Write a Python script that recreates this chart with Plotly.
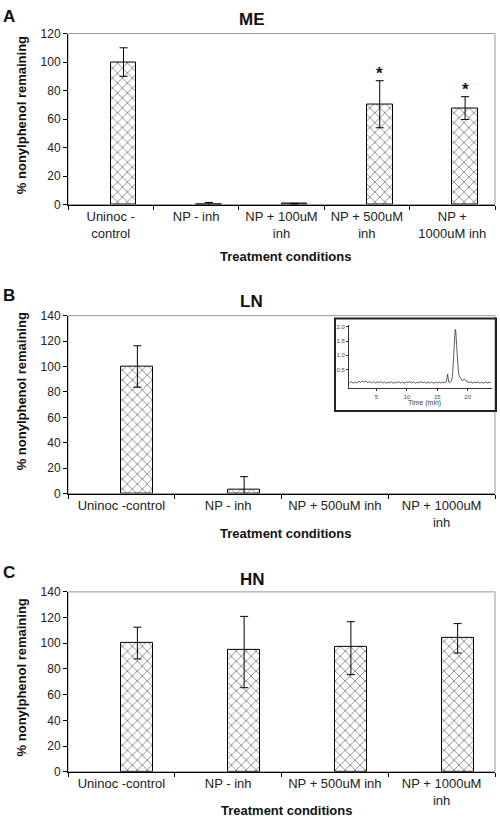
import plotly.graph_objects as go

W, H = 500, 822

# ---------------- data ----------------
cats_A = ["Uninoc -<br>control", "NP - inh", "NP + 100uM<br>inh", "NP + 500uM<br>inh", "NP +<br>1000uM inh"]
vals_A = [100.0, 0.3, 0.5, 70.4, 67.7]
err_A = [10.0, 1.2, 0.3, 16.5, 8.0]
star_A = ["", "", "", "*", "*"]
star_y_A = [None, None, None, 92.0, 81.0]

cats_BC = ["Uninoc -control", "NP - inh", "NP + 500uM inh", "NP + 1000uM<br>inh"]
vals_B = [100.0, 3.0, None, None]   # no remaining nonylphenol detected
err_B = [16.3, 10.3, None, None]

vals_C = [100.3, 94.7, 97.2, 104.4]
err_C_plus = [12.2, 26.2, 19.6, 10.9]
err_C_minus = [12.5, 29.3, 21.6, 12.0]

# inset chromatogram
chrom_t = [0.6, 0.9, 1.2, 1.5, 1.8, 2.1, 2.4, 2.7, 3.0, 3.3, 3.6, 3.9, 4.2, 4.5, 4.8,
           5.1, 5.4, 5.7, 6.0, 6.3, 6.6, 6.9, 7.2, 7.5, 7.8, 8.1, 8.4, 8.7, 9.0, 9.3,
           9.6, 9.9, 10.2, 10.5, 10.8, 11.1, 11.4, 11.7, 12.0, 12.3, 12.6, 12.9, 13.2,
           13.5, 13.8, 14.1, 14.4, 14.7, 15.0, 15.3, 15.6, 15.9, 16.2, 16.5, 16.7, 16.9,
           17.1, 17.3, 17.5, 17.7, 17.85, 17.95, 18.05, 18.2, 18.35, 18.5, 18.7, 18.9,
           19.1, 19.3, 19.5, 19.7, 19.9, 20.2, 20.5, 20.8, 21.1, 21.4, 21.7, 22.0, 22.3,
           22.6, 22.9, 23.2, 23.5, 23.8]
chrom_v = [0.02, 0.07, 0.01, 0.06, 0.02, 0.08, 0.04, 0.10, 0.05, 0.09, 0.03, 0.08, 0.02, 0.07, 0.01,
           0.06, 0.03, 0.07, 0.02, 0.06, 0.01, 0.05, 0.03, 0.06, 0.01, 0.05, 0.02, 0.07, 0.02, 0.05,
           0.01, 0.06, 0.03, 0.07, 0.02, 0.06, 0.01, 0.05, 0.02, 0.07, 0.03, 0.06, 0.01,
           0.05, 0.02, 0.06, 0.01, 0.05, 0.02, 0.06, 0.02, 0.05, 0.03, 0.06, 0.33, 0.05,
           0.04, 0.08, 0.25, 0.90, 1.60, 1.91, 1.85, 1.30, 0.70, 0.35, 0.22, 0.18,
           0.10, 0.13, 0.16, 0.10, 0.07, 0.04, 0.06, 0.02, 0.05, 0.03, 0.06, 0.02, 0.05,
           0.01, 0.06, 0.02, 0.05, 0.03]
inset_xticks = [5, 10, 15, 20]
inset_yticks = [0.5, 1.0, 1.5, 2.0]

# ---------------- layout helpers ----------------
FONT = "Arial, Liberation Sans, sans-serif"


def px(x):
    return x / W


def py(y):
    return 1 - y / H


PLOT_X = [px(68), px(495)]
DOM_A = [py(201), py(27)]
DOM_B = [py(495), py(314)]
DOM_C = [py(778), py(595)]

pattern = dict(shape="x", fgcolor="#111", bgcolor="white", size=7, solidity=0.24)
bar_marker = dict(color="white", pattern=pattern, line=dict(color="black", width=1))

fig = go.Figure()

fig.add_trace(go.Bar(x=cats_A, y=vals_A, xaxis="x", yaxis="y", width=0.30, offset=0.0,
                     showlegend=False, marker=bar_marker,
                     error_y=dict(type="data", array=err_A, color="black", thickness=1, width=4)))
fig.add_trace(go.Bar(x=cats_BC, y=vals_B, xaxis="x2", yaxis="y2", width=0.30, offset=0.0,
                     showlegend=False, marker=bar_marker,
                     error_y=dict(type="data", array=err_B, color="black", thickness=1, width=4)))
fig.add_trace(go.Bar(x=cats_BC, y=vals_C, xaxis="x3", yaxis="y3", width=0.30, offset=0.0,
                     showlegend=False, marker=bar_marker,
                     error_y=dict(type="data", symmetric=False, array=err_C_plus,
                                  arrayminus=err_C_minus, color="black", thickness=1, width=4)))
fig.add_trace(go.Scatter(x=chrom_t, y=chrom_v, xaxis="x4", yaxis="y4", mode="lines",
                         line=dict(color="#333", width=0.8), showlegend=False))

xcommon = dict(type="category", showline=True, linecolor="black", linewidth=1,
               ticks="outside", ticklen=4, tickcolor="black", tickson="boundaries",
               tickfont=dict(family=FONT, size=13, color="#222"), showgrid=False,
               zeroline=False, fixedrange=True)
ycommon = dict(showline=True, linecolor="black", linewidth=1, ticks="outside", ticklen=4,
               tickcolor="black", tickfont=dict(family=FONT, size=12, color="#222"),
               showgrid=False, zeroline=False, dtick=20)

fig.update_layout(
    width=W, height=H,
    margin=dict(l=0, r=0, t=0, b=0),
    paper_bgcolor="white", plot_bgcolor="white",
    bargap=0.0,
    xaxis=dict(domain=PLOT_X, anchor="y", **xcommon),
    yaxis=dict(domain=DOM_A, anchor="x", range=[0, 120], **ycommon),
    xaxis2=dict(domain=PLOT_X, anchor="y2", **xcommon),
    yaxis2=dict(domain=DOM_B, anchor="x2", range=[0, 140], **ycommon),
    xaxis3=dict(domain=PLOT_X, anchor="y3", **xcommon),
    yaxis3=dict(domain=DOM_C, anchor="x3", range=[0, 140], **ycommon),
    xaxis4=dict(domain=[px(349), px(492)], anchor="y4", range=[0.5, 24], showline=True,
                linecolor="#333", linewidth=1, ticks="outside", ticklen=2, tickcolor="#333",
                tickvals=inset_xticks, tickfont=dict(family=FONT, size=6, color="#444"),
                showgrid=False, zeroline=False),
    yaxis4=dict(domain=[py(388), py(324)], anchor="x4", range=[-0.17, 2.05], showline=True,
                linecolor="#333", linewidth=1, ticks="outside", ticklen=2, tickcolor="#333",
                tickvals=inset_yticks, ticktext=["0.5", "1.0", "1.5", "2.0"],
                tickfont=dict(family=FONT, size=6, color="#444"),
                showgrid=False, zeroline=False),
)

# gray frames (top/right borders)
shapes = []
for xr, yr in (("x", "y"), ("x2", "y2"), ("x3", "y3")):
    shapes.append(dict(type="rect", xref=f"{xr} domain", yref=f"{yr} domain",
                       x0=0, x1=1, y0=0, y1=1, line=dict(color="#999", width=1), layer="below"))
# inset frame
shapes.append(dict(type="rect", xref="paper", yref="paper", x0=px(335), x1=px(496),
                   y0=py(411), y1=py(317), line=dict(color="#222", width=2)))
fig.update_layout(shapes=shapes)

ann = []


def text(x, y, s, size, bold=False, angle=0, color="#111"):
    ann.append(dict(xref="paper", yref="paper", x=px(x), y=py(y), text=f"<b>{s}</b>" if bold else s,
                    showarrow=False, textangle=angle, xanchor="center", yanchor="middle",
                    font=dict(family=FONT, size=size, color=color)))


# panel letters
text(9, 10, "A", 17, True)
text(9, 293, "B", 17, True)
text(9, 575, "C", 17, True)
# titles
text(252, 13, "ME", 17, True)
text(251, 300, "LN", 17, True)
text(252, 582, "HN", 17, True)
# y titles
text(21, 110, "% nonylphenol remaining", 13, True, -90)
text(21, 391, "% nonylphenol remaining", 13, True, -90)
text(21, 682, "% nonylphenol remaining", 13, True, -90)
# x titles
text(285, 254, "Treatment conditions", 13, True)
text(285, 536, "Treatment conditions", 13, True)
text(286, 817, "Treatment conditions", 13, True)
# inset x title
text(424, 403, "Time (min)", 7, False, 0, "#444")

# significance asterisks
for i, (s, yv) in enumerate(zip(star_A, star_y_A)):
    if s:
        ann.append(dict(xref="x", yref="y", x=i + 0.15, y=yv, text=f"<b>{s}</b>", showarrow=False,
                        xanchor="center", yanchor="middle",
                        font=dict(family=FONT, size=17, color="#111")))

fig.update_layout(annotations=ann)

fig.write_html("out.html", config={"displayModeBar": False},
               post_script="document.body.style.margin='0';")
